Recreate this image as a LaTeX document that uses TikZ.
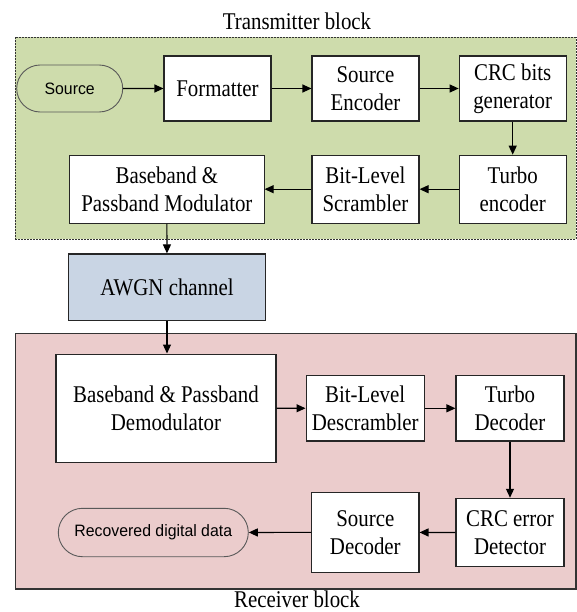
\documentclass[tikz,border=0pt]{standalone}
\usepackage{fontspec}
\setmainfont{Liberation Serif}
\newfontfamily\boxfont[FakeStretch=0.87]{Liberation Serif}
\newfontfamily\sansbox[FakeStretch=0.96]{Liberation Sans}
\usetikzlibrary{arrows.meta,shapes.misc}
\definecolor{txgreen}{RGB}{206,220,172}
\definecolor{rxpink}{RGB}{235,204,204}
\definecolor{awgnblue}{RGB}{201,213,228}
\tikzset{
  blk/.style={draw=black!85, line width=1.1pt, fill=white, align=center, inner sep=0pt,
    font=\boxfont\fontsize{24}{27.7}\selectfont},
  term/.style={rounded rectangle, draw=black!65, line width=0.9pt, inner sep=0pt,
    font=\sansbox\fontsize{16.5}{20}\selectfont},
  arr/.style={-{Triangle[length=9pt,width=8pt]}, line width=1.1pt, draw=black},
  ttl/.style={font=\boxfont\fontsize{24}{27.7}\selectfont, inner sep=0pt},
  txbg/.style={draw=black!80, fill=txgreen, line width=1pt, dash pattern=on 2pt off 1pt, inner sep=0pt},
  rxbg/.style={draw=black!80, fill=rxpink, line width=1.2pt, inner sep=0pt}
}
\begin{document}
\begin{tikzpicture}[x=1pt,y=-1pt]
\useasboundingbox (0,0) rectangle (577,612);
% backgrounds
\node[txbg, minimum width=560.7pt, minimum height=201.7pt] (tx) at (295.65,138.15) {};
\node[rxbg, minimum width=560.7pt, minimum height=255.7pt] (rx) at (295.65,461.15) {};
\node[ttl] (txt) at (297,21) {Transmitter block};
\node[ttl] (rxt) at (297,599.5) {Receiver block};
% transmitter
\node[term, minimum width=106pt, minimum height=47pt] (src) at (69.7,88.5) {Source};
\node[blk, minimum width=107pt, minimum height=65pt] (fmt) at (217.5,88.5) {Formatter};
\node[blk, minimum width=107pt, minimum height=65pt] (senc) at (365.5,88.5) {Source\\Encoder};
\node[blk, minimum width=107pt, minimum height=65pt] (crc) at (512.7,88.5) {CRC bits\\generator};
\node[blk, minimum width=107pt, minimum height=68pt] (tenc) at (512.7,189.2) {Turbo\\encoder};
\node[blk, minimum width=107pt, minimum height=68pt] (scr) at (365.5,189.2) {Bit-Level\\Scrambler};
\node[blk, minimum width=194.3pt, minimum height=68pt] (mod) at (166.9,189.2) {Baseband \&\\Passband Modulator};
% channel
\node[blk, fill=awgnblue, minimum width=197.4pt, minimum height=66.7pt] (awgn) at (167,287.3) {AWGN channel};
% receiver
\node[blk, minimum width=220pt, minimum height=108.3pt] (demod) at (166,408.2) {Baseband \& Passband\\Demodulator};
\node[blk, minimum width=118.3pt, minimum height=65.3pt] (dscr) at (365.2,408.3) {Bit-Level\\Descrambler};
\node[blk, minimum width=108pt, minimum height=65.3pt] (tdec) at (510,408.3) {Turbo\\Decoder};
\node[blk, minimum width=108pt, minimum height=68.4pt] (crce) at (510,532.5) {CRC error\\Detector};
\node[blk, minimum width=107.3pt, minimum height=80pt] (sdec) at (365.3,532.4) {Source\\Decoder};
\node[term, minimum width=190pt, minimum height=48.4pt] (rec) at (153.3,532.5) {Recovered digital data};
% connectors
\draw[arr] (src) -- (fmt);
\draw[arr] (fmt) -- (senc);
\draw[arr] (senc) -- (crc);
\draw[arr] (crc) -- (tenc);
\draw[arr] (tenc) -- (scr);
\draw[arr] (scr) -- (mod);
\draw[arr] (mod) -- (awgn);
\draw[arr] (awgn) -- (awgn |- demod.north);
\draw[arr] (demod) -- (dscr);
\draw[arr] (dscr) -- (tdec);
\draw[arr] (tdec) -- (crce);
\draw[arr] (crce) -- (sdec);
\draw[arr] (sdec) -- (rec);
\end{tikzpicture}
\end{document}
